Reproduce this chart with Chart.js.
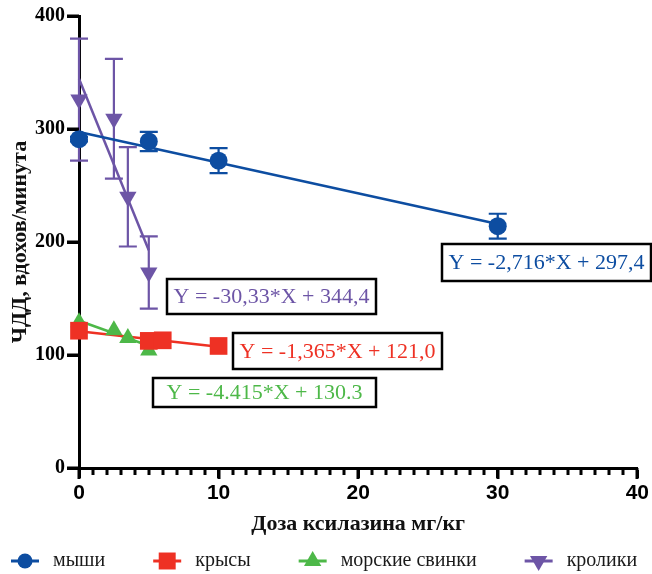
<!DOCTYPE html>
<html>
<head>
<meta charset="utf-8">
<script src="https://cdn.jsdelivr.net/npm/chart.js@4/dist/chart.umd.min.js"></script>
<style>
  html, body { margin: 0; padding: 0; background: #fff; }
  #wrap { width: 652px; height: 574px; }
</style>
</head>
<body>
<div id="wrap"><canvas id="rrChart" width="652" height="574"></canvas></div>
<script>
// data
const speciesNames = ['мыши', 'крысы', 'морские свинки', 'кролики'];
const speciesColors = ['#0D4DA1', '#EE3124', '#4DB848', '#6D55A6'];

const doseMice = [0, 5, 10, 30];
const rrMice = [291, 289, 272, 214];
const errMice = [2, 8.5, 11, 11];

const doseRats = [0, 5, 6, 10];
const rrRats = [121.5, 112.5, 113, 108];

const doseGuinea = [0, 2.5, 3.5, 5];
const rrGuinea = [129, 122, 115, 104];

const doseRabbits = [0, 2.5, 3.5, 5];
const rrRabbits = [326, 309, 240, 173];
const errRabbits = [54, 53, 44, 32];

// fitted lines: slope, intercept, x range
const fitSlopes = [-2.716, -1.365, -4.415, -30.33];
const fitIntercepts = [297.4, 121.0, 130.3, 344.4];
const fitRanges = [[0, 30], [0, 10], [0, 5], [0, 5]];
const fitLabels = ['Y = -2,716*X + 297,4', 'Y = -1,365*X + 121,0', 'Y = -4.415*X + 130.3', 'Y = -30,33*X + 344,4'];

const yTicks = [0, 100, 200, 300, 400];
const xTicks = [0, 10, 20, 30, 40];

const SERIF = '"Liberation Serif", "Times New Roman", serif';
const SANS = '"Liberation Sans", Arial, sans-serif';

// label boxes (pixel layout)
const boxLayout = [
    { x: 442, y: 244, w: 209, h: 37 },
    { x: 233, y: 333, w: 209, h: 36 },
    { x: 153, y: 378, w: 223, h: 29 },
    { x: 167, y: 279, w: 209, h: 35 },
];

const pointStyles = ['circle', 'rect', 'triangle', 'triangle'];
const pointRots = [0, 0, 0, 180];
const pointSizes = [9, 12.5, 10, 10];
const legendSizes = [7.5, 12, 10, 10];

function pts(xs, ys) {
    return xs.map((x, i) => ({ x: x, y: ys[i] }));
}

function fitLine(i) {
    const [a, b] = fitRanges[i];
    return [
        { x: a, y: fitSlopes[i] * a + fitIntercepts[i] },
        { x: b, y: fitSlopes[i] * b + fitIntercepts[i] },
    ];
}

const seriesPoints = [
    pts(doseMice, rrMice),
    pts(doseRats, rrRats),
    pts(doseGuinea, rrGuinea),
    pts(doseRabbits, rrRabbits),
];
const seriesErrors = [errMice, null, null, errRabbits];
const drawOrder = [3, 1, 2, 4];

const datasets = [];
speciesNames.forEach((name, i) => {
    datasets.push({
        label: name,
        data: seriesPoints[i],
        showLine: false,
        pointStyle: pointStyles[i],
        rotation: pointRots[i],
        pointRadius: pointSizes[i],
        pointHoverRadius: pointSizes[i],
        backgroundColor: speciesColors[i],
        borderColor: speciesColors[i],
        borderWidth: 0,
        clip: false,
        order: drawOrder[i],
        errors: seriesErrors[i],
    });
});
speciesNames.forEach((name, i) => {
    datasets.push({
        label: name + ' fit',
        data: fitLine(i),
        showLine: true,
        pointRadius: 0,
        borderColor: speciesColors[i],
        borderWidth: 2.5,
        clip: false,
        order: 10,
    });
});

const errorBars = {
    id: 'errorBars',
    beforeDatasetsDraw(chart) {
        const { ctx, scales: { x, y } } = chart;
        ctx.save();
        chart.data.datasets.forEach((ds) => {
            if (!ds.errors) return;
            ctx.strokeStyle = ds.borderColor;
            ctx.lineWidth = 2.2;
            ds.data.forEach((p, j) => {
                const e = ds.errors[j];
                const px = x.getPixelForValue(p.x);
                const top = y.getPixelForValue(p.y + e);
                const bot = y.getPixelForValue(p.y - e);
                ctx.beginPath();
                ctx.moveTo(px, top); ctx.lineTo(px, bot);
                ctx.moveTo(px - 9, top); ctx.lineTo(px + 9, top);
                ctx.moveTo(px - 9, bot); ctx.lineTo(px + 9, bot);
                ctx.stroke();
            });
        });
        ctx.restore();
    },
};

// axis tick marks: majors on both axes, minors every 1 on x
const axisTicks = {
    id: 'axisTicks',
    afterDraw(chart) {
        const { ctx, scales: { x, y } } = chart;
        ctx.save();
        ctx.strokeStyle = '#000';
        ctx.lineWidth = 3;
        ctx.beginPath();
        for (let v = x.min; v <= x.max; v++) {
            const px = Math.round(x.getPixelForValue(v));
            const len = v % 10 === 0 ? 11 : 7;
            ctx.moveTo(px, y.bottom); ctx.lineTo(px, y.bottom + len);
        }
        yTicks.forEach((v) => {
            const py = Math.round(y.getPixelForValue(v));
            ctx.moveTo(x.left, py); ctx.lineTo(x.left - 12, py);
        });
        ctx.stroke();
        ctx.restore();
    },
};

function drawMarker(ctx, i, cx, cy, r) {
    Chart.helpers.drawPoint(ctx, { pointStyle: pointStyles[i], rotation: pointRots[i], radius: r, borderWidth: 0 }, cx, cy);
}

const fitBoxes = {
    id: 'fitBoxes',
    afterDraw(chart) {
        const { ctx } = chart;
        ctx.save();
        boxLayout.forEach((b, i) => {
            ctx.fillStyle = '#fff';
            ctx.fillRect(b.x, b.y, b.w, b.h);
            ctx.strokeStyle = '#000';
            ctx.lineWidth = 2.5;
            ctx.strokeRect(b.x, b.y, b.w, b.h);
            ctx.fillStyle = speciesColors[i];
            ctx.font = '22px ' + SERIF;
            ctx.textAlign = 'center';
            ctx.textBaseline = 'middle';
            ctx.fillText(fitLabels[i], b.x + b.w / 2, b.y + b.h / 2 + 1);
        });
        ctx.restore();
    },
};

const bottomLegend = {
    id: 'bottomLegend',
    afterDraw(chart) {
        const { ctx } = chart;
        ctx.save();
        ctx.font = '20px ' + SERIF;
        ctx.textBaseline = 'middle';
        ctx.textAlign = 'left';
        let cx = 25;
        const cy = 561;
        speciesNames.forEach((name, i) => {
            ctx.strokeStyle = speciesColors[i];
            ctx.fillStyle = speciesColors[i];
            ctx.lineWidth = 3;
            ctx.beginPath();
            ctx.moveTo(cx - 14, cy); ctx.lineTo(cx + 14, cy);
            ctx.stroke();
            drawMarker(ctx, i, cx, cy, legendSizes[i]);
            ctx.fillStyle = '#1a1a1a';
            ctx.fillText(name, cx + 28, cy);
            cx += 28 + ctx.measureText(name).width + 62;
        });
        ctx.restore();
    },
};

const ctx = document.getElementById('rrChart').getContext('2d');
const rrChart = new Chart(ctx, {
    type: 'scatter',
    data: { datasets: datasets },
    options: {
        responsive: false,
        animation: false,
        events: [],
        layout: { padding: { top: 16, right: 14, left: 0, bottom: 0 } },
        plugins: { legend: { display: false }, tooltip: { enabled: false } },
        scales: {
            x: {
                type: 'linear',
                min: xTicks[0],
                max: xTicks[xTicks.length - 1],
                afterFit: (scale) => { scale.height = 106; },
                afterBuildTicks: (scale) => { scale.ticks = xTicks.map(v => ({ value: v })); },
                border: { display: true, color: '#000', width: 3 },
                grid: { drawOnChartArea: false, drawTicks: true, tickLength: 10, tickWidth: 3, tickColor: '#000' },
                ticks: { color: '#000', padding: 3, maxRotation: 0, font: { family: SANS, size: 21, weight: 'bold' } },
                title: {
                    display: true,
                    text: 'Доза ксилазина мг/кг',
                    color: '#111',
                    font: { family: SERIF, size: 22, weight: 'bold' },
                    padding: { top: 0, bottom: 36 },
                },
            },
            y: {
                type: 'linear',
                min: yTicks[0],
                max: yTicks[yTicks.length - 1],
                afterFit: (scale) => { scale.width = 79; },
                afterBuildTicks: (scale) => { scale.ticks = yTicks.map(v => ({ value: v })); },
                border: { display: true, color: '#000', width: 3 },
                grid: { drawOnChartArea: false, drawTicks: true, tickLength: 12, tickWidth: 3, tickColor: '#000' },
                ticks: { color: '#000', padding: 2, font: { family: SERIF, size: 20, weight: 'bold' } },
                title: {
                    display: true,
                    text: 'ЧДД, вдохов/минута',
                    color: '#111',
                    font: { family: SERIF, size: 22, weight: 'bold' },
                    padding: { top: 7, bottom: 0 },
                },
            },
        },
    },
    plugins: [errorBars, axisTicks, fitBoxes, bottomLegend],
});
</script>
</body>
</html>
